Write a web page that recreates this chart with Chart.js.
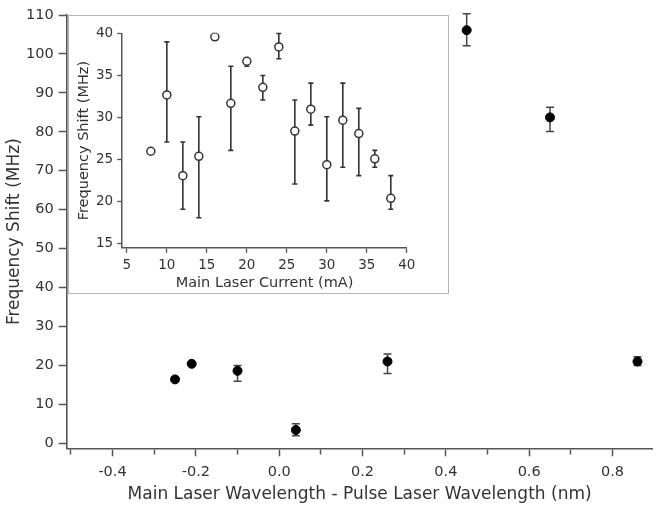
<!DOCTYPE html>
<html>
<head>
<meta charset="utf-8">
<script src="https://cdn.jsdelivr.net/npm/chart.js@4"></script>
<style>
  body { margin: 0; background: #fff; }
  #wrap { position: relative; width: 658px; height: 508px; }
  #main { position: absolute; left: 0; top: 0; }
  #insetBox { position: absolute; left: 68px; top: 15px; width: 381px; height: 279px;
              box-sizing: border-box; border: 1.5px solid #b4b4b4; background: #fff; }
  #inset { position: absolute; left: 0; top: 0; }
</style>
</head>
<body>
<div id="wrap">
  <canvas id="main" width="658" height="508"></canvas>
  <div id="insetBox"><canvas id="inset" width="378" height="276"></canvas></div>
</div>
<script>
// main plot: wavelength offset (nm) vs frequency shift (MHz)
var wlOffset = [-0.25, -0.21, -0.10, 0.04, 0.26, 0.45, 0.65, 0.86];
var wlShift  = [16.4, 20.4, 18.6, 3.4, 21.0, 106.1, 83.7, 21.0];
var wlUpper  = [16.4, 20.4, 20.0, 5.0, 22.9, 110.3, 86.3, 22.2];
var wlLower  = [16.4, 20.4, 15.9, 1.9, 17.9, 102.1, 80.1, 20.0];

// inset: main laser current (mA) vs frequency shift (MHz)
var current  = [8, 10, 12, 14, 16, 18, 20, 22, 24, 26, 28, 30, 32, 34, 36, 38];
var curShift = [26.0, 32.7, 23.1, 25.4, 39.6, 31.7, 36.7, 33.6, 38.4, 28.4, 31.0, 24.4, 29.7, 28.1, 25.1, 20.4];
var curUpper = [26.0, 39.0, 27.1, 30.1, 40.0, 36.1, 36.9, 35.0, 40.0, 32.1, 34.1, 30.1, 34.1, 31.1, 26.1, 23.1];
var curLower = [26.0, 27.1, 19.1, 18.1, 39.2, 26.1, 36.1, 32.1, 37.0, 22.1, 29.1, 20.1, 24.1, 23.1, 24.1, 19.1];

Chart.defaults.font.family = 'DejaVu Sans';
Chart.defaults.color = '#333';

function makeErrorBars(xs, lower, upper, cap, color, width) {
    return {
        id: 'errorBars',
        beforeDatasetsDraw: function (chart) {
            var ctx = chart.ctx, x = chart.scales.x, y = chart.scales.y;
            ctx.save();
            ctx.strokeStyle = color;
            ctx.lineWidth = width;
            xs.forEach(function (xv, i) {
                if (lower[i] === upper[i]) return;
                var px = x.getPixelForValue(xv);
                var y1 = y.getPixelForValue(lower[i]);
                var y2 = y.getPixelForValue(upper[i]);
                ctx.beginPath();
                ctx.moveTo(px, y1); ctx.lineTo(px, y2);
                ctx.moveTo(px - cap, y1); ctx.lineTo(px + cap, y1);
                ctx.moveTo(px - cap, y2); ctx.lineTo(px + cap, y2);
                ctx.stroke();
            });
            ctx.restore();
        }
    };
}

function toPoints(xs, ys) {
    return xs.map(function (v, i) { return { x: v, y: ys[i] }; });
}

// keep only ticks on the step grid
function onGrid(step) {
    return function (scale) {
        scale.ticks = scale.ticks.filter(function (t) {
            var k = t.value / step;
            return Math.abs(k - Math.round(k)) < 1e-6;
        });
    };
}

new Chart(document.getElementById('main'), {
    type: 'scatter',
    data: {
        datasets: [{
            data: toPoints(wlOffset, wlShift),
            pointRadius: 4.5,
            pointBackgroundColor: '#000',
            pointBorderColor: '#000',
            pointBorderWidth: 1
        }]
    },
    options: {
        responsive: false,
        animation: false,
        layout: { padding: { top: 15, right: 0, left: 0, bottom: 0 } },
        plugins: { legend: { display: false }, tooltip: { enabled: false } },
        scales: {
            x: {
                type: 'linear',
                min: -0.51,
                max: 0.896,
                afterFit: function (s) { s.height = 59.7; },
                afterBuildTicks: onGrid(0.1),
                border: { color: '#555', width: 1.6 },
                grid: {
                    drawOnChartArea: false,
                    color: '#555',
                    tickLength: 8,
                    tickWidth: 1.5,
                    tickBorderDash: function (c) {
                        var k = Math.round(c.tick.value * 10);
                        return (k % 2 === 0) ? [] : [5, 20];
                    }
                },
                ticks: {
                    stepSize: 0.1,
                    includeBounds: false,
                    autoSkip: false,
                    maxRotation: 0,
                    padding: 7,
                    font: { size: 14.5 },
                    callback: function (v) {
                        var k = Math.round(v * 10);
                        return (k % 2 === 0) ? (k / 10).toFixed(1) : '';
                    }
                },
                title: {
                    display: true,
                    text: 'Main Laser Wavelength - Pulse Laser Wavelength (nm)',
                    font: { size: 17 },
                    color: '#333',
                    padding: { top: 0, bottom: 3 }
                }
            },
            y: {
                min: -1.3,
                max: 110,
                afterFit: function (s) { s.width = 66.7; },
                border: { color: '#555', width: 1.6 },
                grid: { drawOnChartArea: false, color: '#555', tickLength: 8, tickWidth: 1.5 },
                ticks: { stepSize: 10, includeBounds: false, padding: 5, font: { size: 14.5 } },
                title: {
                    display: true,
                    text: 'Frequency Shift (MHz)',
                    font: { size: 17 },
                    color: '#333',
                    padding: { top: 4, bottom: 0 }
                }
            }
        }
    },
    plugins: [makeErrorBars(wlOffset, wlLower, wlUpper, 4, '#444', 1.5)]
});

new Chart(document.getElementById('inset'), {
    type: 'scatter',
    data: {
        datasets: [{
            data: toPoints(current, curShift),
            pointRadius: 4,
            pointBackgroundColor: '#fff',
            pointBorderColor: '#333',
            pointBorderWidth: 1.5
        }]
    },
    options: {
        responsive: false,
        animation: false,
        layout: { padding: { top: 17.5, right: 40.2, left: 0, bottom: 0 } },
        plugins: { legend: { display: false }, tooltip: { enabled: false } },
        scales: {
            x: {
                type: 'linear',
                min: 4.42,
                max: 40,
                afterFit: function (s) { s.height = 44.2; },
                afterBuildTicks: onGrid(5),
                border: { color: '#555', width: 1.5 },
                grid: { drawOnChartArea: false, color: '#555', tickLength: 5, tickWidth: 1.3 },
                ticks: { stepSize: 5, includeBounds: false, autoSkip: false, maxRotation: 0, padding: 5, font: { size: 13.5 } },
                title: {
                    display: true,
                    text: 'Main Laser Current (mA)',
                    font: { size: 14.5 },
                    color: '#333',
                    padding: { top: 0, bottom: 0 }
                }
            },
            y: {
                min: 14.52,
                max: 40,
                afterFit: function (s) { s.width = 53.2; },
                afterBuildTicks: onGrid(5),
                border: { color: '#555', width: 1.5 },
                grid: { drawOnChartArea: false, color: '#555', tickLength: 5, tickWidth: 1.3 },
                ticks: { stepSize: 5, includeBounds: false, padding: 4, font: { size: 13.5 } },
                title: {
                    display: true,
                    text: 'Frequency Shift (MHz)',
                    font: { size: 14.5 },
                    color: '#333',
                    padding: { top: 7, bottom: 0 }
                }
            }
        }
    },
    plugins: [makeErrorBars(current, curLower, curUpper, 2.5, '#333', 1.6)]
});
</script>
</body>
</html>
